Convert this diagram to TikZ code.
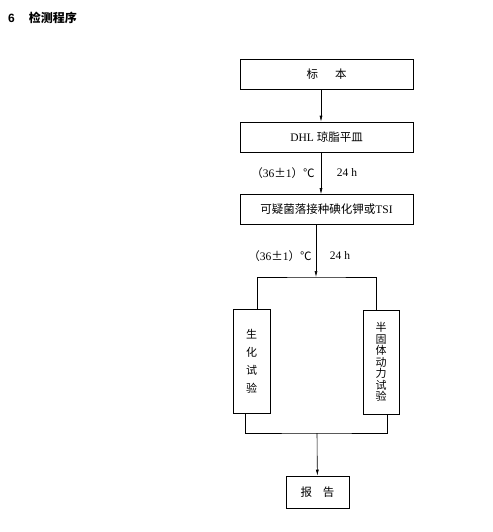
\documentclass[tikz,border=0pt]{standalone}
\usepackage{fontspec}
\setmainfont{Liberation Serif}
\newfontfamily\cjk{Noto Sans CJK SC}
\newfontfamily\headfont{Liberation Sans}
\usetikzlibrary{arrows.meta}
\tikzset{
  stage/.style = {draw, semithick, minimum width=173pt, minimum height=30pt,
                  inner sep=0pt, font=\fontsize{11.5}{13}\selectfont},
  test/.style  = {draw, semithick, minimum height=104pt, inner sep=0pt,
                  align=center},
  e/.style     = {-{Latex[length=6pt,width=3pt]}, semithick},
  ln/.style    = {semithick},
  cond/.style  = {font=\fontsize{11.5}{13}\selectfont, inner sep=0pt}
}

\begin{document}
\begin{tikzpicture}[x=1pt, y=-1pt]
  \useasboundingbox (0,0) rectangle (492,532);
  \node[anchor=west, inner sep=0pt, font=\fontsize{12}{14}\selectfont] (title)
    at (8,18) {{\headfont\bfseries 6}\hspace{14pt}{\cjk\bfseries 检测程序}};

  \node[stage] (sample) at (326.5,74)  {{\cjk 标}\hspace{17pt}{\cjk 本}};
  \node[stage] (dhl)    at (326.5,137) {DHL {\cjk 琼脂平皿}};
  \node[stage] (tsi)    at (326.5,209.5) {{\cjk 可疑菌落接种碘化钾或}TSI};
  \node[test, minimum width=37pt, font=\cjk\fontsize{11}{18}\selectfont] (bio)
    at (251.5,361) {生\\化\\试\\验};
  \node[test, minimum width=36pt, font=\cjk\fontsize{11}{11.5}\selectfont] (motil)
    at (381,362) {半\\固\\体\\动\\力\\试\\验};
  \node[stage, minimum width=63pt, minimum height=32pt] (report)
    at (317.5,492) {{\cjk 报}\hspace{11pt}{\cjk 告}};

  % incubation conditions
  \node[cond] (t1) at (283,173) {{\cjk （}36{\cjk ±}1{\cjk ）℃}};
  \node[cond] (h1) at (347,173) {24 h};
  \node[cond] (t2) at (280,256) {{\cjk （}36{\cjk ±}1{\cjk ）℃}};
  \node[cond] (h2) at (340,256) {24 h};

  \coordinate (split) at (316,277);
  \coordinate (join)  at (317,433);

  \draw[e] ([xshift=-5.5pt]sample.south) -- ([xshift=-5.5pt]dhl.north);
  \draw[e] ([xshift=-5.5pt]dhl.south) -- ([xshift=-5.5pt]tsi.north);
  \draw[e] ([xshift=-10.5pt]tsi.south) -- (split);
  \draw[ln] ([xshift=5.5pt]bio.north) |- (split) -| ([xshift=-5pt]motil.north);
  \draw[ln] ([xshift=-6.5pt]bio.south) |- (join) -| ([xshift=6pt]motil.south);
  \draw[e] (join) -- (report);
\end{tikzpicture}
\end{document}
